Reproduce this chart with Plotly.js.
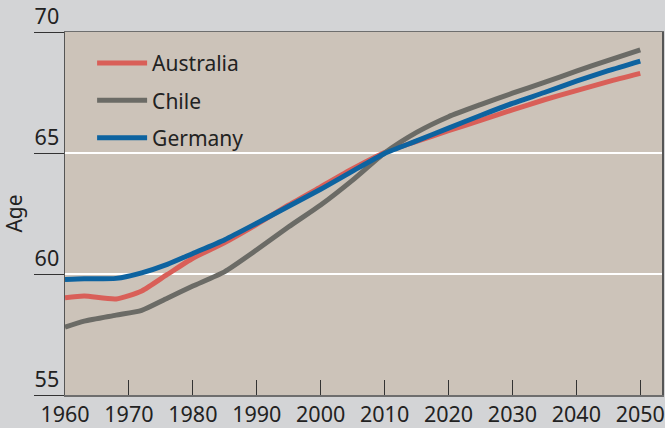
<!DOCTYPE html>
<html>
<head>
<meta charset="utf-8">
<script src="https://cdn.plot.ly/plotly-3.0.1.min.js"></script>
<style>html,body{margin:0;padding:0;background:#d3d4d6;}#chart{width:665px;height:428px;}</style>
</head>
<body>
<div id="chart"></div>
<script>
const years = [1960,1963,1968,1972,1976,1980,1985,1990,1995,2000,2005,2010,2015,2020,2025,2030,2035,2040,2045,2050];
const australia = [59.02,59.09,58.97,59.30,59.98,60.65,61.30,62.05,62.85,63.60,64.35,65.02,65.48,65.92,66.35,66.78,67.20,67.58,67.95,68.29];
const chile     = [57.80,58.05,58.30,58.50,59.00,59.50,60.10,61.00,61.95,62.85,63.88,65.00,65.85,66.50,67.00,67.47,67.92,68.38,68.83,69.26];
const germany   = [59.77,59.80,59.82,60.05,60.40,60.85,61.42,62.10,62.80,63.50,64.25,64.98,65.50,66.03,66.55,67.05,67.50,67.97,68.40,68.80];
const seriesNames = ["Australia","Chile","Germany"];
const seriesColors = ["#d95f58","#6b6b66","#0d63a0"];
const xTicks = [1960,1970,1980,1990,2000,2010,2020,2030,2040,2050];
const yTicks = [55,60,65,70];

const font = "Noto Sans, Open Sans, sans-serif";
const data = [australia, chile, germany].map((vals, i) => ({
  x: years, y: vals, name: seriesNames[i], type: "scatter", mode: "lines",
  legendgroup: "g" + i,
  line: {color: seriesColors[i], width: 5, shape: "spline", smoothing: 0.6}
}));

const layout = {
  width: 665, height: 428,
  paper_bgcolor: "#d3d4d6", plot_bgcolor: "#ccc3b9",
  margin: {l: 65, r: 3, t: 32, b: 33},
  font: {family: font, size: 21, color: "#222"},
  showlegend: true,
  legend: {x: 0.0454, y: 0.97, xanchor: "left", yanchor: "top", bgcolor: "rgba(0,0,0,0)",
           font: {family: font, size: 21, color: "#222"}, itemwidth: 50, tracegroupgap: 7},
  xaxis: {range: [1960, 2053.4], tickvals: xTicks, ticktext: xTicks.map(String),
          ticks: "inside", ticklen: 15, tickcolor: "#333", tickwidth: 1,
          showgrid: false, zeroline: false, showline: true, linecolor: "#6e6e6e", linewidth: 1.5, mirror: true,
          tickfont: {family: font, size: 21.5, color: "#222"}},
  yaxis: {range: [55, 70], tickvals: yTicks, ticktext: yTicks.map(String),
          ticks: "outside", ticklen: 30, tickcolor: "#333", tickwidth: 1,
          ticklabelposition: "outside top", ticklabelstandoff: 0,
          showgrid: true, gridcolor: "#ffffff", gridwidth: 1.5, zeroline: false,
          showline: true, linecolor: "#555", linewidth: 1.5, mirror: true,
          title: {text: "Age", font: {family: font, size: 21, color: "#222"}, standoff: 11},
          tickfont: {family: font, size: 21.5, color: "#222"}}
};
Plotly.newPlot("chart", data, layout, {displayModeBar: false, staticPlot: true});
</script>
</body>
</html>
